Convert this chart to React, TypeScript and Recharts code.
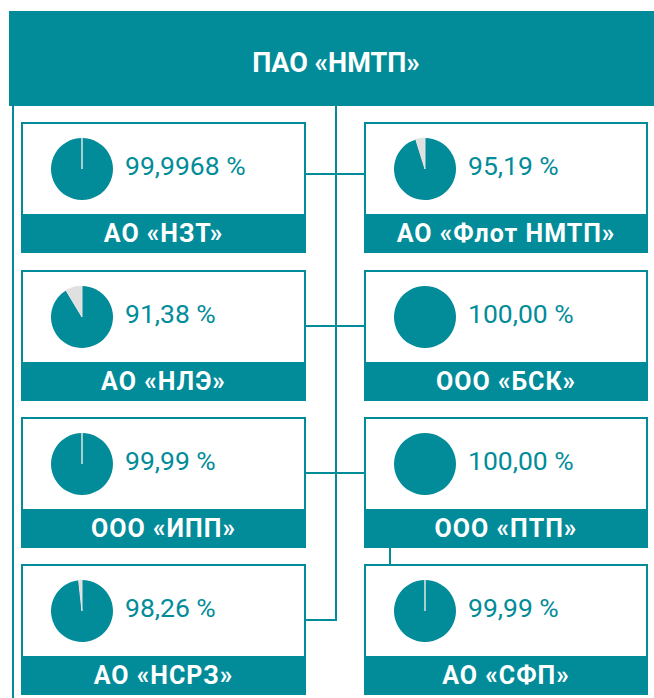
import { PieChart, Pie, Cell } from "recharts"

const TEAL = "#028c9a"
const GREY = "#e0e0e0"

const parentName = "ПАО «НМТП»"
const companies = [
  "АО «НЗТ»",
  "АО «Флот НМТП»",
  "АО «НЛЭ»",
  "ООО «БСК»",
  "ООО «ИПП»",
  "ООО «ПТП»",
  "АО «НСРЗ»",
  "АО «СФП»",
]
const shares = [99.9968, 95.19, 91.38, 100.0, 99.99, 100.0, 98.26, 99.99]

const shareFormatter = new Intl.NumberFormat("ru-RU", {
  minimumFractionDigits: 2,
  maximumFractionDigits: 4,
})

// layout of the org chart
const colX = [21, 364]
const colW = [285, 284]
const rowY = [122, 270, 417, 564]
const boxH = 131
const bandH = 39
const trunkX = 336
const connY = [52, 56, 56, 56]
const PIE_SIZE = 80

const FONT = "Roboto, 'Noto Sans', sans-serif"

function SharePie({ value }: { value: number }) {
  const data = [
    { name: "share", value },
    { name: "rest", value: 100 - value },
  ]
  return (
    <PieChart width={PIE_SIZE} height={PIE_SIZE} margin={{ top: 0, right: 0, bottom: 0, left: 0 }}>
      <Pie
        data={data}
        dataKey="value"
        cx="50%"
        cy="50%"
        outerRadius={31}
        startAngle={90}
        endAngle={-270}
        isAnimationActive={false}
        stroke="none"
      >
        <Cell fill={TEAL} stroke="none" />
        <Cell fill={GREY} stroke="#e4e4e4" strokeWidth={1} />
      </Pie>
    </PieChart>
  )
}

function CompanyBox({ name, share, x, y, w }: { name: string; share: number; x: number; y: number; w: number }) {
  return (
    <div
      style={{
        position: "absolute",
        left: x,
        top: y,
        width: w,
        height: boxH,
        border: `2px solid ${TEAL}`,
        boxSizing: "border-box",
        background: "#fff",
      }}
    >
      <div style={{ position: "absolute", left: 61 - 2 - PIE_SIZE / 2, top: 47 - 2 - PIE_SIZE / 2 }}>
        <SharePie value={share} />
      </div>
      <div
        style={{
          position: "absolute",
          left: 102,
          top: 29,
          height: 26,
          lineHeight: "26px",
          fontSize: 26.5,
          color: TEAL,
          fontFamily: FONT,
          whiteSpace: "nowrap",
        }}
      >
        {shareFormatter.format(share)} %
      </div>
      <div
        style={{
          position: "absolute",
          left: -2,
          right: -2,
          bottom: -2,
          height: bandH,
          background: TEAL,
          color: "#fff",
          fontFamily: FONT,
          fontWeight: 700,
          fontSize: 25,
          letterSpacing: 1,
          lineHeight: `${bandH}px`,
          textAlign: "center",
          whiteSpace: "nowrap",
        }}
      >
        {name}
      </div>
    </div>
  )
}

export default function App() {
  const lastRow = rowY.length - 1
  return (
    <div
      style={{
        position: "fixed",
        left: 0,
        top: 0,
        width: 654,
        height: 698,
        background: "#fff",
        overflow: "hidden",
      }}
    >
      <svg width={654} height={698} style={{ position: "absolute", left: 0, top: 0 }}>
        <line x1={13} y1={100} x2={13} y2={698} stroke={TEAL} strokeWidth={2} />
        <line x1={trunkX} y1={100} x2={trunkX} y2={rowY[lastRow] + connY[lastRow]} stroke={TEAL} strokeWidth={2} />
        {rowY.map((y, i) => (
          <line
            key={i}
            x1={colX[0] + colW[0]}
            y1={y + connY[i]}
            x2={i === lastRow ? trunkX + 1 : colX[1]}
            y2={y + connY[i]}
            stroke={TEAL}
            strokeWidth={2}
          />
        ))}
        <line x1={390} y1={rowY[2] + boxH} x2={390} y2={rowY[3]} stroke={TEAL} strokeWidth={2} />
      </svg>
      <div
        style={{
          position: "absolute",
          left: 9,
          top: 11,
          width: 645,
          height: 95,
          background: TEAL,
        }}
      >
        <div
          style={{
            position: "absolute",
            left: 0,
            width: 654,
            top: 38,
            height: 28,
            lineHeight: "28px",
            textAlign: "center",
            color: "#fff",
            fontFamily: FONT,
            fontWeight: 700,
            fontSize: 27,
          }}
        >
          {parentName}
        </div>
      </div>
      {companies.map((name, i) => {
        const col = i % 2
        const row = Math.floor(i / 2)
        return (
          <CompanyBox key={name} name={name} share={shares[i]} x={colX[col]} y={rowY[row]} w={colW[col]} />
        )
      })}
    </div>
  )
}
